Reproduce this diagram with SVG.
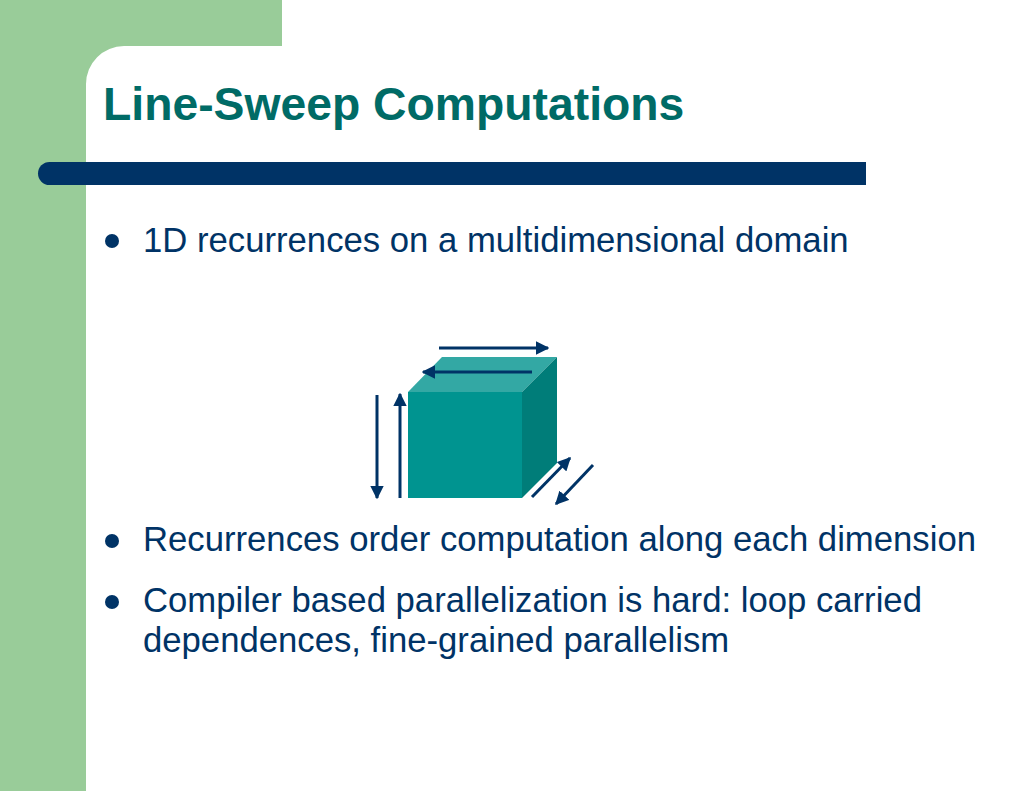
<svg xmlns="http://www.w3.org/2000/svg" width="1024" height="791" viewBox="0 0 1024 791">
<style>
.title{font-family:"Liberation Sans",Arial,sans-serif;font-weight:bold;font-size:46.3px;fill:#006B66}
.body{font-family:"Liberation Sans",Arial,sans-serif;font-size:34.7px;fill:#003366}
.bullet{fill:#003366}
.arr{stroke:#003366;stroke-width:3;fill:none;marker-end:url(#ah)}
</style>
<defs>
<marker id="ah" viewBox="0 0 10 10" refX="9" refY="5" markerWidth="4.5" markerHeight="4.5" orient="auto" markerUnits="strokeWidth">
<path d="M0,0 L10,5 L0,10 z" fill="#003366"/>
</marker>
</defs>
<rect width="1024" height="791" fill="#ffffff"/>
<g id="background">
<path d="M0,0 H282 V46 H124 A38,38 0 0 0 86,84 V791 H0 Z" fill="#99CC99"/>
<path d="M38,173.5 A11.5,11.5 0 0 1 49.5,162 H866 V185 H49.5 A11.5,11.5 0 0 1 38,173.5 Z" fill="#003366"/>
</g>
<g id="title"><text class="title" x="103" y="120">Line-Sweep Computations</text></g>
<g id="bullets">
<circle class="bullet" cx="112" cy="241" r="7"/>
<text class="body" x="143" y="252">1D recurrences on a multidimensional domain</text>
<circle class="bullet" cx="112" cy="541" r="7"/>
<text class="body" x="143" y="551">Recurrences order computation along each dimension</text>
<circle class="bullet" cx="112" cy="602" r="7"/>
<text class="body" x="143" y="612">Compiler based parallelization is hard: loop carried</text>
<text class="body" x="143" y="652">dependences, fine-grained parallelism</text>
</g>
<g id="cube">
<polygon points="408,392 442,357 557,357 522,392" fill="#33A8A4"/>
<polygon points="522,392 557,357 557,463 522,498" fill="#007D79"/>
<rect x="408" y="392" width="114" height="106" fill="#009490"/>
</g>
<g id="connectors">
<line class="arr" x1="439" y1="348" x2="548" y2="348"/>
<line class="arr" x1="532" y1="372" x2="423" y2="372"/>
<line class="arr" x1="377" y1="395" x2="377" y2="498"/>
<line class="arr" x1="400" y1="498" x2="400" y2="394"/>
<line class="arr" x1="532" y1="497" x2="570" y2="458"/>
<line class="arr" x1="593" y1="465" x2="556" y2="504"/>
</g>
</svg>
